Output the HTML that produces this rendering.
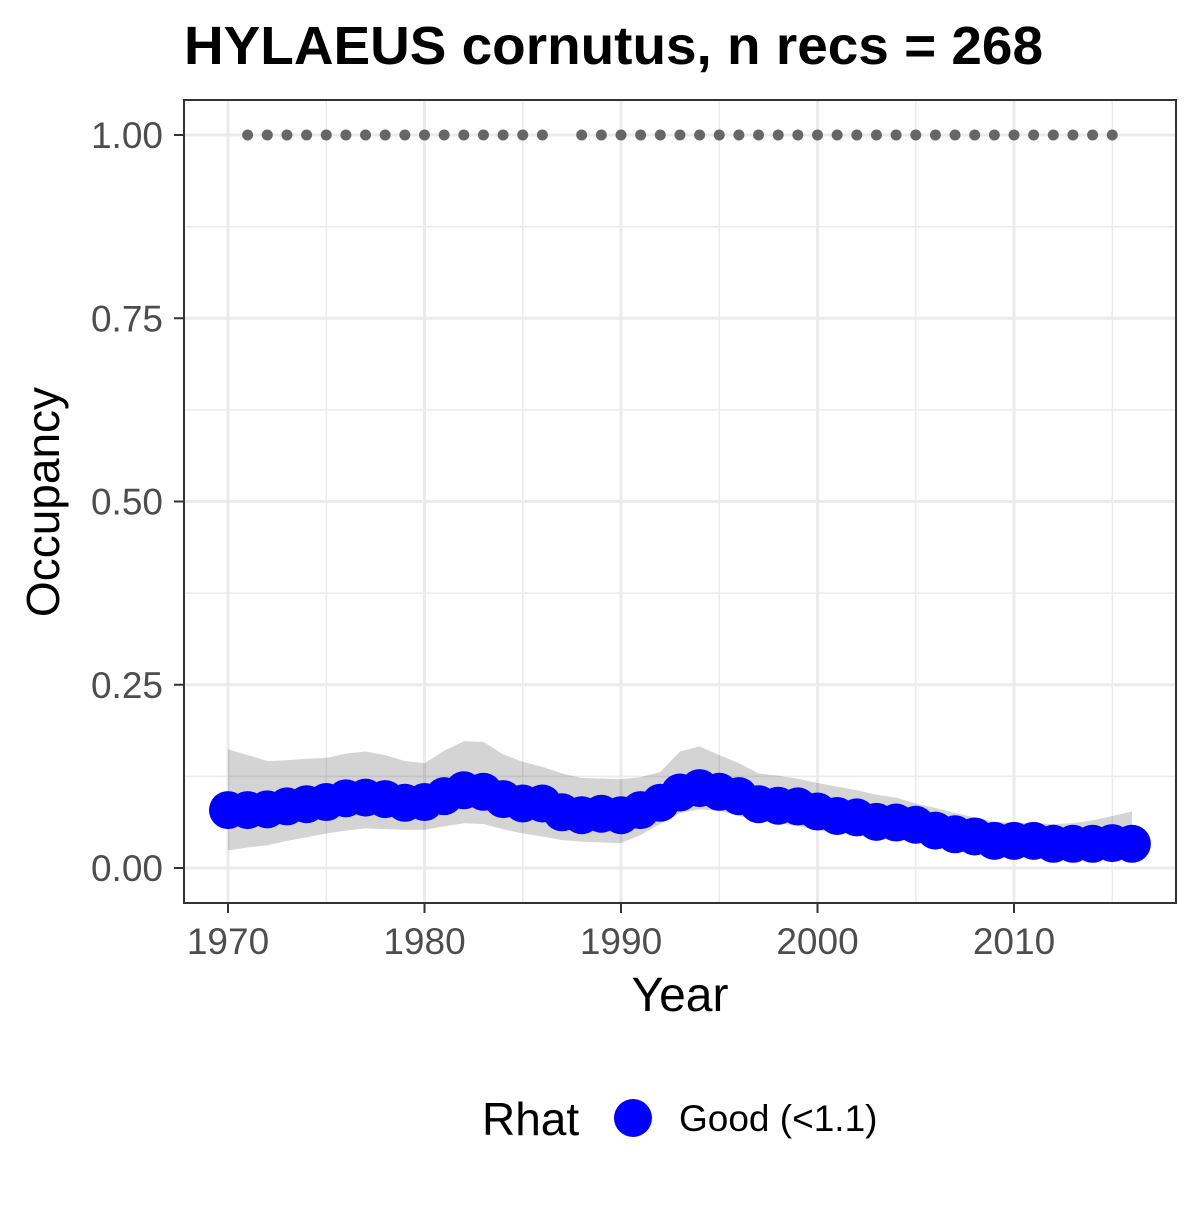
<!DOCTYPE html>
<html><head><meta charset="utf-8"><style>
body{margin:0;background:#fff;}
svg text{font-family:"Liberation Sans",Arial,sans-serif;}
</style></head><body>
<svg id="chart" width="1200" height="1200" xmlns="http://www.w3.org/2000/svg">
<rect width="1200" height="1200" fill="#fff"/>
<text x="184" y="64" font-size="54" font-weight="bold" fill="#000" textLength="859" lengthAdjust="spacingAndGlyphs">HYLAEUS cornutus, n recs = 268</text>
<g id="grid"></g>
<g id="ribbon"></g>
<g id="recdots"></g>
<g id="points"></g>
<rect x="184" y="100" width="992" height="803" fill="none" stroke="#333" stroke-width="2"/>
<g id="axes"></g>
<text x="680" y="1011" font-size="48" text-anchor="middle" fill="#000">Year</text>
<text transform="translate(59,502) rotate(-90)" font-size="46" text-anchor="middle" fill="#000">Occupancy</text>
<g>
<text x="482" y="1135" font-size="46" fill="#000">Rhat</text>
<circle cx="633" cy="1118" r="19" fill="#0000ff"/>
<text x="679" y="1131" font-size="37" fill="#000">Good (&lt;1.1)</text>
</g>
</svg>
<script>
const years=[1970,1971,1972,1973,1974,1975,1976,1977,1978,1979,1980,1981,1982,1983,1984,1985,1986,1987,1988,1989,1990,1991,1992,1993,1994,1995,1996,1997,1998,1999,2000,2001,2002,2003,2004,2005,2006,2007,2008,2009,2010,2011,2012,2013,2014,2015,2016];
const occupancy=[0.079,0.079,0.080,0.084,0.087,0.090,0.095,0.096,0.094,0.089,0.090,0.098,0.106,0.104,0.094,0.088,0.088,0.076,0.072,0.074,0.072,0.079,0.089,0.103,0.109,0.104,0.098,0.087,0.085,0.084,0.077,0.071,0.069,0.063,0.062,0.059,0.051,0.046,0.043,0.037,0.037,0.037,0.033,0.033,0.033,0.034,0.033];
const upper=[0.162,0.154,0.146,0.147,0.149,0.150,0.156,0.159,0.154,0.146,0.143,0.160,0.173,0.172,0.155,0.145,0.138,0.129,0.123,0.122,0.121,0.124,0.131,0.159,0.166,0.154,0.143,0.129,0.126,0.122,0.116,0.111,0.106,0.100,0.096,0.088,0.082,0.075,0.069,0.063,0.062,0.061,0.060,0.061,0.065,0.071,0.077];
const lower=[0.024,0.028,0.031,0.037,0.042,0.047,0.051,0.054,0.053,0.052,0.052,0.057,0.061,0.060,0.053,0.047,0.043,0.038,0.036,0.035,0.034,0.045,0.060,0.075,0.080,0.078,0.071,0.066,0.061,0.057,0.052,0.048,0.046,0.044,0.046,0.045,0.040,0.036,0.033,0.030,0.028,0.026,0.024,0.022,0.021,0.021,0.020];
const recordYears=[1971,1972,1973,1974,1975,1976,1977,1978,1979,1980,1981,1982,1983,1984,1985,1986,1988,1989,1990,1991,1992,1993,1994,1995,1996,1997,1998,1999,2000,2001,2002,2003,2004,2005,2006,2007,2008,2009,2010,2011,2012,2013,2014,2015];
const xTicks=[1970,1980,1990,2000,2010];
const yTicks=[0,0.25,0.5,0.75,1.0];
const yTickLabels=["0.00","0.25","0.50","0.75","1.00"];
const NS="http://www.w3.org/2000/svg";
const X=v=>228+(v-1970)*(1014-228)/40;
const Y=v=>868-v*733;
function mk(tag,attrs,parent){const e=document.createElementNS(NS,tag);for(const k in attrs)e.setAttribute(k,attrs[k]);document.getElementById(parent).appendChild(e);return e;}
for(let i=0;i<yTicks.length-1;i++){const m=(yTicks[i]+yTicks[i+1])/2;const g=mk('line',{x1:184,x2:1176,y1:Y(m),y2:Y(m),stroke:'#ebebeb','stroke-width':1.5},'grid');

}
for(let i=0;i<xTicks.length;i++){const m=xTicks[i]+5;const g=mk('line',{x1:X(m),x2:X(m),y1:100,y2:903,stroke:'#ebebeb','stroke-width':1.5},'grid');

}
yTicks.forEach((t,i)=>{const g=mk('line',{x1:184,x2:1176,y1:Y(t),y2:Y(t),stroke:'#ebebeb','stroke-width':3},'grid');


const tk=mk('line',{x1:174,x2:184,y1:Y(t),y2:Y(t),stroke:'#333','stroke-width':2},'axes');


const tx=mk('text',{x:163,y:Y(t)+13,'font-size':37,'text-anchor':'end',fill:'#4d4d4d'},'axes');tx.textContent=yTickLabels[i];

});
xTicks.forEach(t=>{const g=mk('line',{x1:X(t),x2:X(t),y1:100,y2:903,stroke:'#ebebeb','stroke-width':3},'grid');


const tk=mk('line',{x1:X(t),x2:X(t),y1:903,y2:913,stroke:'#333','stroke-width':2},'axes');


const tx=mk('text',{x:X(t),y:954,'font-size':37,'text-anchor':'middle',fill:'#4d4d4d'},'axes');tx.textContent=String(t);

});
let d=years.map((y,i)=>(i?'L':'M')+X(y)+','+Y(upper[i])).join(' ');
for(let i=years.length-1;i>=0;i--)d+=' L'+X(years[i])+','+Y(lower[i]);
const rb=mk('path',{d:d+' Z',fill:'#000','fill-opacity':0.17},'ribbon');


recordYears.forEach(y=>{const c=mk('circle',{cx:X(y),cy:Y(1),r:5.5,fill:'#666'},'recdots');

});
years.forEach((y,i)=>{const c=mk('circle',{cx:X(y),cy:Y(occupancy[i]),r:19,fill:'#0000ff'},'points');

});
</script>
</body></html>
